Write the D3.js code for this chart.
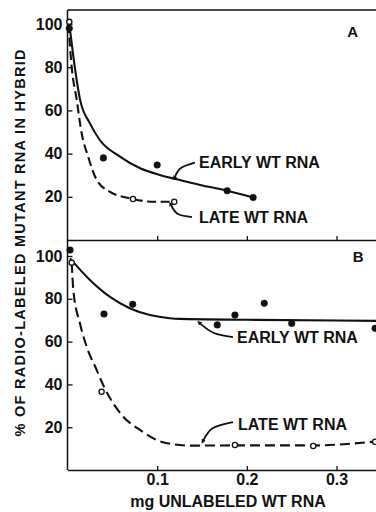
<!DOCTYPE html>
<html>
<head>
<meta charset="utf-8">
<script src="https://cdn.jsdelivr.net/npm/d3@7"></script>
<style>
  html, body { margin: 0; padding: 0; background: #fff; }
  svg { display: block; }
  text { font-family: "Liberation Sans", Arial, sans-serif; fill: #111; }
</style>
</head>
<body>
<svg id="chart" width="376" height="512"></svg>
<script>
// Competition hybridization: % of radio-labeled mutant RNA remaining in hybrid
// versus mg of unlabeled wild-type RNA added (panels A and B).

const xTicks = [0.1, 0.2, 0.3];
const yTicks = [20, 40, 60, 80, 100];

// Panel A — measured points
const earlyA_x = [0.002, 0.040, 0.100, 0.178, 0.207];
const earlyA_y = [98, 38, 34.7, 22.8, 19.7];
const lateA_x = [0.002, 0.073, 0.119];
const lateA_y = [101, 19, 17.7];
// Panel A — fitted curves
const earlyA_fit_x = [0.002, 0.0065, 0.014, 0.025, 0.036, 0.0585, 0.081, 0.103, 0.122, 0.148, 0.178, 0.207];
const earlyA_fit_y = [100, 85, 65, 54, 46.3, 38.6, 33.2, 30.1, 28.1, 25.5, 22.8, 19.7];
const lateA_fit_x = [0.001, 0.0047, 0.0103, 0.0158, 0.023, 0.0326, 0.047, 0.0727, 0.0957, 0.119];
const lateA_fit_y = [100, 80, 64.8, 49.4, 38.6, 27.8, 22.4, 19, 17.7, 17.7];

// Panel B — measured points
const earlyB_x = [0.0028, 0.0407, 0.0727, 0.167, 0.1867, 0.2194, 0.25, 0.343];
const earlyB_y = [102.8, 72.9, 77.4, 67.8, 72.4, 77.9, 68.5, 66.2];
const lateB_x = [0.0047, 0.038, 0.1867, 0.274, 0.343];
const lateB_y = [96.9, 36.6, 11.7, 11.2, 13.2];
// Panel B — fitted curves
const earlyB_fit_x = [0.0028, 0.025, 0.047, 0.07, 0.092, 0.114, 0.125, 0.2, 0.344];
const earlyB_fit_y = [98.9, 88.8, 81, 75.5, 72.4, 70.9, 70.6, 70.2, 69.7];
const lateB_fit_x = [0.0047, 0.0065, 0.0139, 0.0214, 0.0326, 0.0407, 0.0622, 0.0808, 0.0994, 0.118, 0.1366, 0.19, 0.274, 0.344];
const lateB_fit_y = [96.9, 84.1, 68.5, 57.6, 46.7, 38.9, 24.9, 18.7, 14, 12, 11.4, 11.5, 11.5, 13.3];

// Curve labels and their leader lines, in data units
const labelText = ["EARLY WT RNA", "LATE WT RNA", "EARLY WT RNA", "LATE WT RNA"];
const labelPanel = ["A", "A", "B", "B"];
const labelAt = [[0.1466, 33.3], [0.1466, 7.9], [0.189, 59.3], [0.1901, 18.7]];
const leaders = [
  [[0.1198, 29.2], [0.1265, 33.3], [0.1421, 35.8]],
  [[0.1154, 16.2], [0.1232, 12.0], [0.1388, 10.6]],
  [[0.1477, 68.5], [0.1633, 64.0], [0.1845, 62.1]],
  [[0.1514, 13.8], [0.1622, 19.6], [0.1845, 22.4]]
];
const panelNames = ["A", "B"];
const panelNameAt = [[0.318, 94], [0.324, 97.2]];

const xTitle = "mg UNLABELED WT RNA";
const yTitle = "% OF RADIO-LABELED MUTANT RNA IN HYBRID";

const zip = (xs, ys) => xs.map((x, i) => [x, ys[i]]);

const svg = d3.select("#chart");
const left = 67.5, right = 376;

const x = d3.scaleLinear().domain([0, 0.344]).range([left, right]);
const yA = d3.scaleLinear().domain([0, 100]).range([240, 24]);
const yB = d3.scaleLinear().domain([0, 100]).range([470, 256]);
const yScale = { A: yA, B: yB };

// arrowhead for leader lines
svg.append("defs").append("marker")
  .attr("id", "arrow")
  .attr("viewBox", "0 0 10 10")
  .attr("refX", 2).attr("refY", 5)
  .attr("markerWidth", 4.5).attr("markerHeight", 4.5)
  .attr("markerUnits", "userSpaceOnUse")
  .attr("orient", "auto-start-reverse")
  .append("path").attr("d", "M0,0 L10,5 L0,10 z").attr("fill", "#111");

const axisStyle = g => {
  g.selectAll(".domain").attr("stroke", "#111").attr("stroke-width", 1.5);
  g.selectAll(".tick line").attr("stroke", "#111").attr("stroke-width", 1.3);
  g.selectAll(".tick text").attr("font-size", 16).attr("font-weight", "bold").attr("fill", "#111")
    .attr("font-family", "'Liberation Sans', Arial, sans-serif");
};

// Panel A frame: top border, left axis, shared x axis line
svg.append("line")
  .attr("x1", x(0)).attr("x2", right)
  .attr("y1", yA(106.5)).attr("y2", yA(106.5))
  .attr("stroke", "#111").attr("stroke-width", 1.5);

const yAxisA = d3.axisLeft(yA).tickValues(yTicks).tickSizeInner(-5).tickSizeOuter(0).tickPadding(5);
const gA = svg.append("g").attr("transform", `translate(${x(0)},0)`).call(yAxisA);
gA.select(".domain").attr("d", `M0,${yA(0)}V${yA(106.5)}`);
axisStyle(gA);

const xAxisA = d3.axisBottom(x).tickValues(xTicks).tickSizeInner(-4).tickSizeOuter(0).tickFormat("");
const gxA = svg.append("g").attr("transform", `translate(0,${yA(0)})`).call(xAxisA);
axisStyle(gxA);

// Panel B axes
const yAxisB = d3.axisLeft(yB).tickValues(yTicks).tickSizeInner(-5).tickSizeOuter(0).tickPadding(5);
const gB = svg.append("g").attr("transform", `translate(${x(0)},0)`).call(yAxisB);
gB.select(".domain").attr("d", `M0,${yB(0)}V${yA(0)}`);
axisStyle(gB);

const xAxisB = d3.axisBottom(x).tickValues(xTicks).tickSizeInner(-4).tickSizeOuter(0)
  .tickPadding(4).tickFormat(d3.format(".1f"));
const gxB = svg.append("g").attr("transform", `translate(0,${yB(0)})`).call(xAxisB);
axisStyle(gxB);

// Fitted curves
const curves = [
  { panel: "A", data: zip(earlyA_fit_x, earlyA_fit_y), dash: null },
  { panel: "A", data: zip(lateA_fit_x, lateA_fit_y), dash: "9,4.5" },
  { panel: "B", data: zip(earlyB_fit_x, earlyB_fit_y), dash: null },
  { panel: "B", data: zip(lateB_fit_x, lateB_fit_y), dash: "10,5" }
];
curves.forEach(c => {
  const line = d3.line().x(d => x(d[0])).y(d => yScale[c.panel](d[1])).curve(d3.curveMonotoneX);
  svg.append("path")
    .attr("d", line(c.data))
    .attr("fill", "none")
    .attr("stroke", "#111")
    .attr("stroke-width", 2.1)
    .attr("stroke-dasharray", c.dash);
});

// Data points: filled = early, open = late
const points = [
  { panel: "A", data: zip(earlyA_x, earlyA_y), open: false },
  { panel: "A", data: zip(lateA_x, lateA_y), open: true },
  { panel: "B", data: zip(earlyB_x, earlyB_y), open: false },
  { panel: "B", data: zip(lateB_x, lateB_y), open: true }
];
points.forEach(p => {
  svg.append("g").selectAll("circle").data(p.data).join("circle")
    .attr("cx", d => x(d[0]))
    .attr("cy", d => yScale[p.panel](d[1]))
    .attr("r", p.open ? 2.6 : 3.3)
    .attr("fill", p.open ? "#fff" : "#111")
    .attr("stroke", "#111")
    .attr("stroke-width", p.open ? 1.3 : 0.5);
});

// Leader lines and curve labels
leaders.forEach((pts, i) => {
  const ys = yScale[labelPanel[i]];
  const line = d3.line().x(d => x(d[0])).y(d => ys(d[1])).curve(d3.curveNatural);
  svg.append("path")
    .attr("d", line(pts))
    .attr("fill", "none")
    .attr("stroke", "#111")
    .attr("stroke-width", 1.8)
    .attr("marker-start", "url(#arrow)");
  svg.append("text")
    .attr("x", x(labelAt[i][0]))
    .attr("y", ys(labelAt[i][1]))
    .attr("font-size", 16)
    .attr("font-weight", "bold")
    .text(labelText[i]);
});

// Panel letters
panelNames.forEach((name, i) => {
  svg.append("text")
    .attr("x", x(panelNameAt[i][0]))
    .attr("y", yScale[name](panelNameAt[i][1]))
    .attr("text-anchor", "middle")
    .attr("font-size", 15)
    .attr("font-weight", "bold")
    .text(name);
});

// Axis titles
svg.append("text")
  .attr("x", 228).attr("y", 507)
  .attr("text-anchor", "middle")
  .attr("font-size", 16)
  .attr("font-weight", "bold")
  .text(xTitle);

svg.append("text")
  .attr("transform", "translate(25,243) rotate(-90)")
  .attr("text-anchor", "middle")
  .attr("font-size", 14.5)
  .attr("font-weight", "bold")
  .attr("textLength", 387)
  .attr("lengthAdjust", "spacing")
  .text(yTitle);
</script>
</body>
</html>
